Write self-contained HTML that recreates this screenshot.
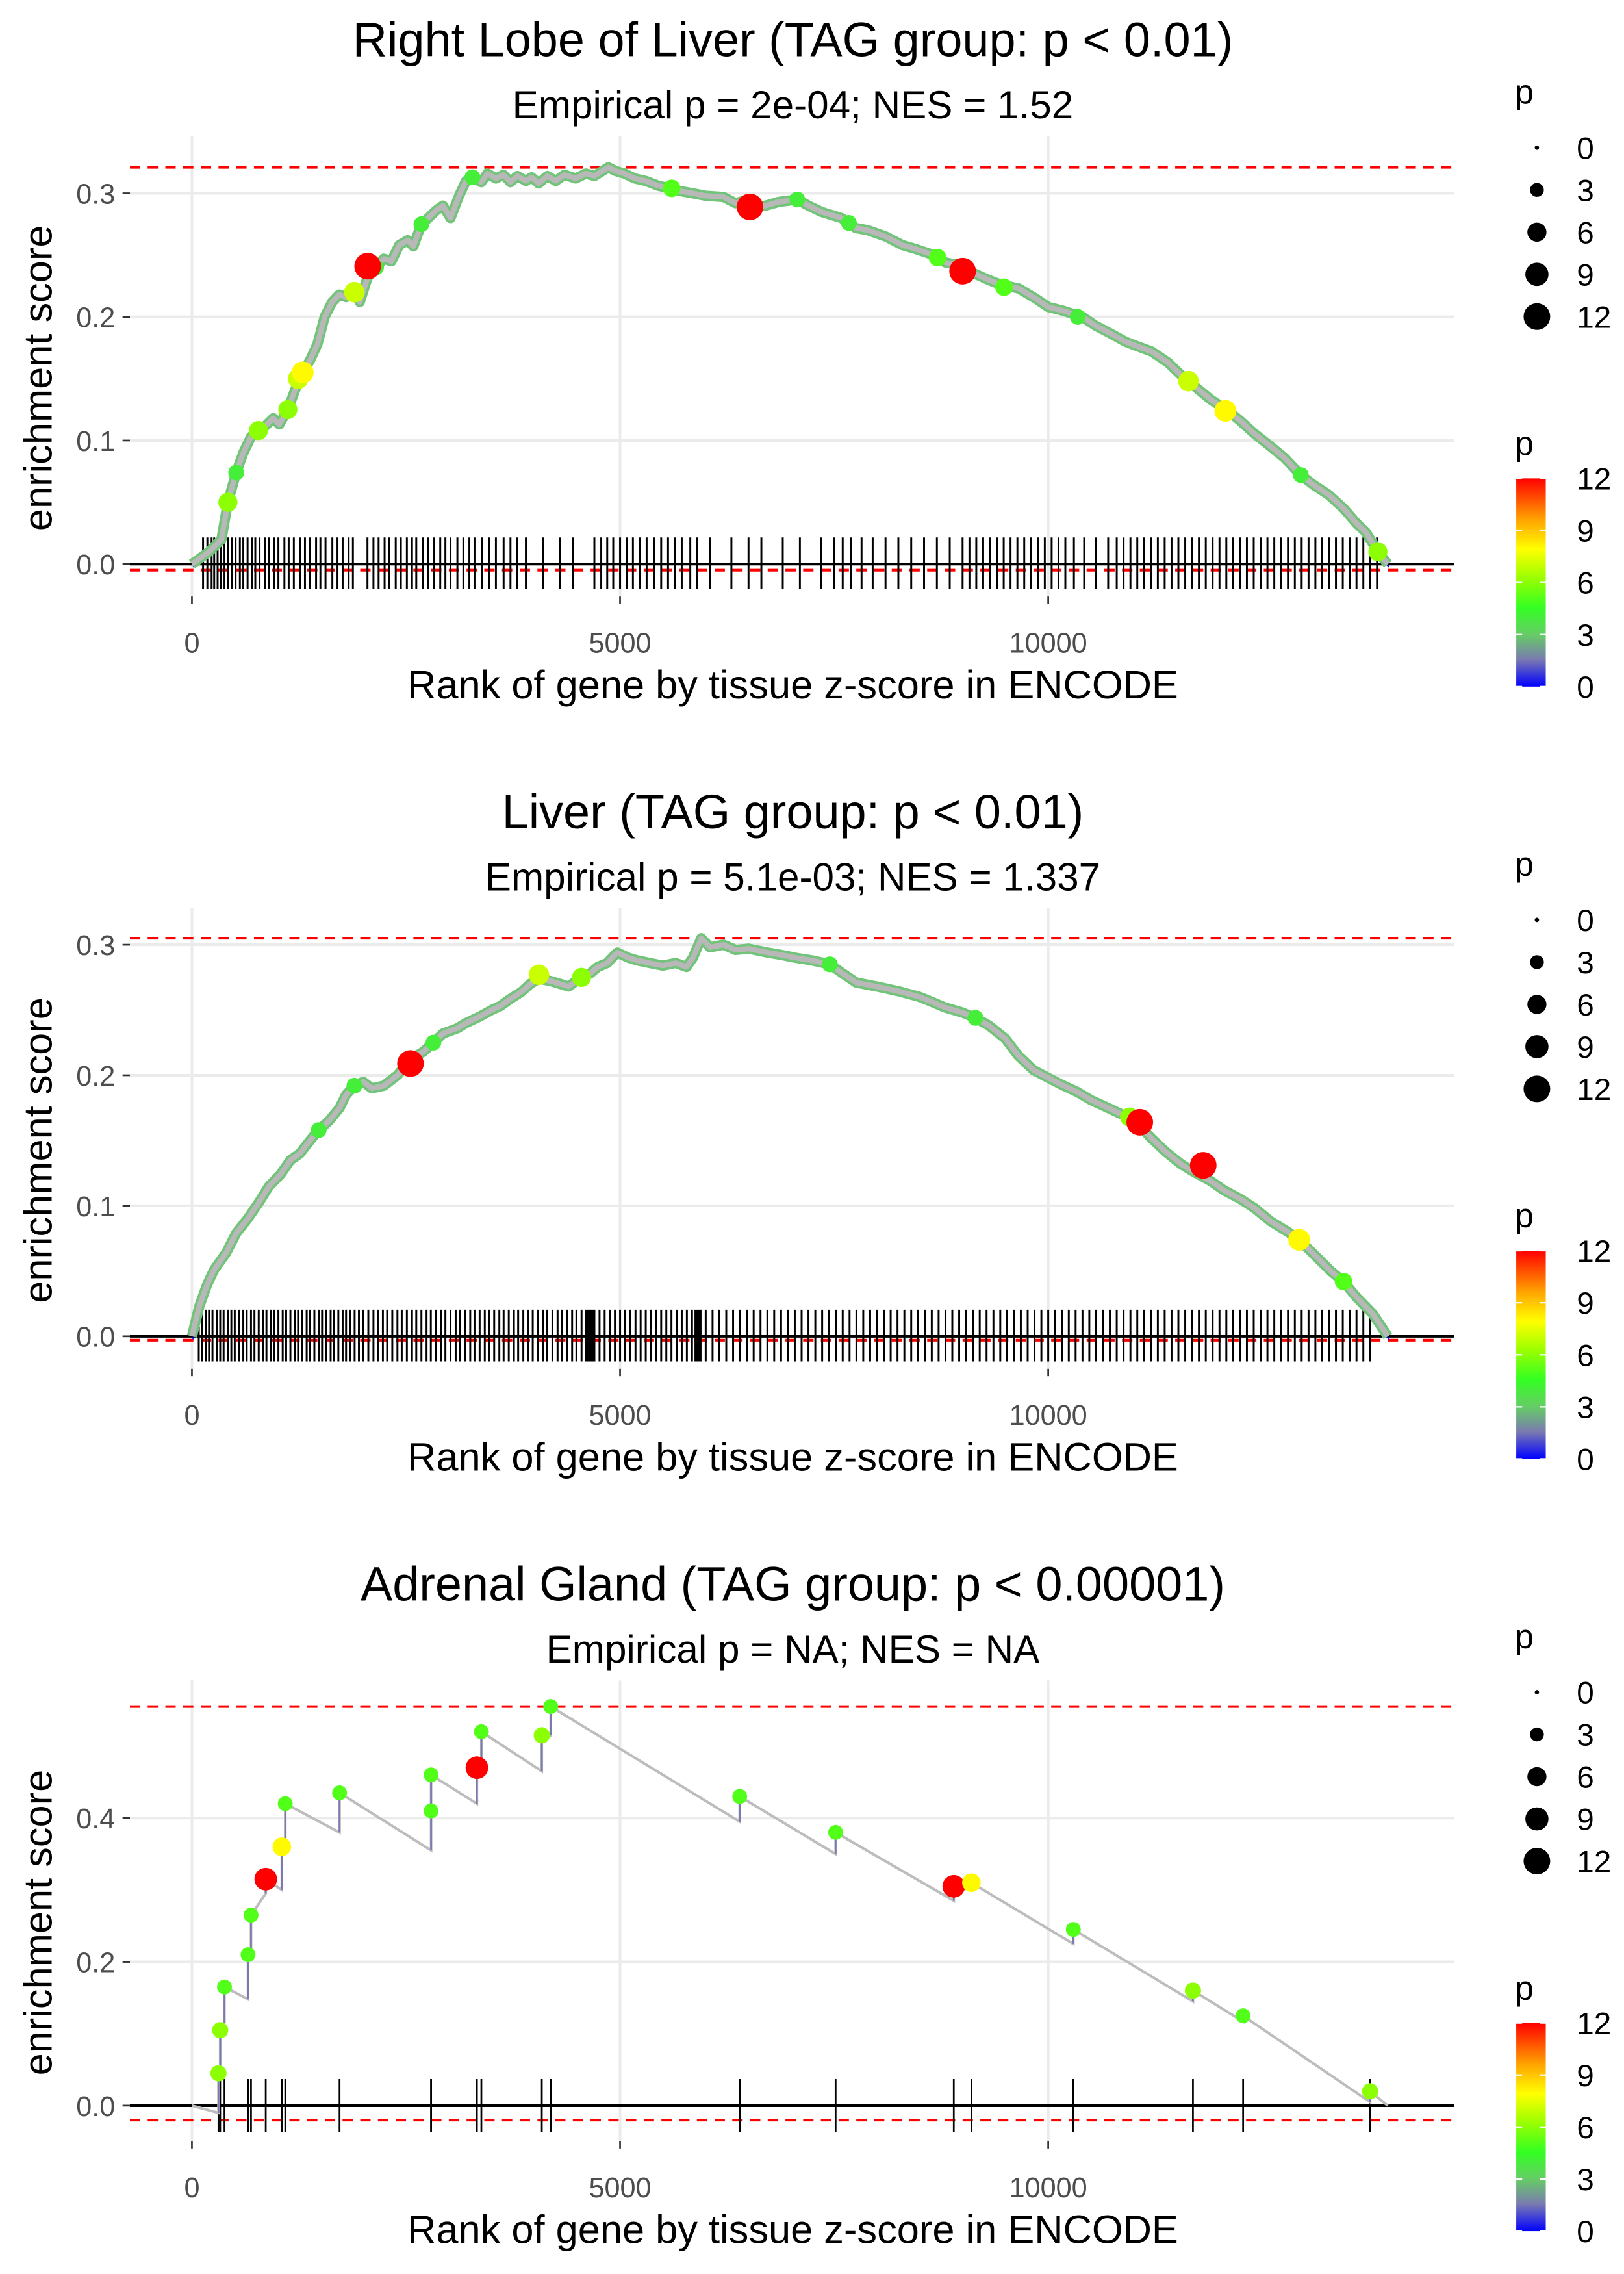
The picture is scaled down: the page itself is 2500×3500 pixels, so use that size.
<!DOCTYPE html>
<html><head><meta charset="utf-8"><title>GSEA enrichment plots</title>
<style>
html,body{margin:0;padding:0;background:#fff;}
svg{display:block;font-family:"Liberation Sans",sans-serif;}
</style></head>
<body>
<svg id="chart" width="2500" height="3500" viewBox="0 0 1100 1540" xmlns="http://www.w3.org/2000/svg">
<defs>
<linearGradient id="pgrad" x1="0" y1="1" x2="0" y2="0">
<stop offset="0" stop-color="#0000ff"/>
<stop offset="0.13" stop-color="#7a7ab0"/>
<stop offset="0.25" stop-color="#66cc66"/>
<stop offset="0.38" stop-color="#33ff22"/>
<stop offset="0.52" stop-color="#99ff00"/>
<stop offset="0.66" stop-color="#ffff00"/>
<stop offset="0.8" stop-color="#ffa500"/>
<stop offset="1" stop-color="#ff0000"/>
</linearGradient>
</defs>
</svg>
<script>
// ---------- Panel 1: Right Lobe of Liver ----------
const p1Ranks = [0,200,345,420,517,600,690,780,862,950,1020,1120,1200,1293,1380,1466,1550,1638,1720,1800,1897,1960,2052,2150,2241,2330,2420,2520,2586,2680,2760,2850,2931,3020,3120,3200,3276,3380,3450,3550,3638,3720,3800,3900,3966,4050,4150,4250,4350,4483,4600,4700,4862,4950,5050,5172,5300,5450,5600,5690,5850,6000,6207,6350,6450,6552,6700,6850,7069,7200,7350,7586,7750,7900,8103,8300,8450,8621,8800,8950,9138,9300,9450,9655,9850,10000,10172,10400,10550,10690,10900,11050,11207,11400,11550,11724,11900,12100,12241,12400,12600,12759,12950,13100,13276,13450,13600,13707,13850,13966];
const p1ES = [0,0.01,0.02,0.05,0.074,0.09,0.103,0.108,0.112,0.118,0.113,0.125,0.14,0.155,0.165,0.178,0.2,0.212,0.218,0.216,0.22,0.212,0.232,0.24,0.247,0.245,0.258,0.262,0.257,0.275,0.28,0.286,0.29,0.28,0.298,0.31,0.313,0.309,0.316,0.312,0.315,0.309,0.314,0.31,0.313,0.308,0.314,0.31,0.315,0.312,0.316,0.314,0.321,0.318,0.316,0.312,0.31,0.306,0.304,0.302,0.3,0.298,0.297,0.292,0.294,0.289,0.29,0.293,0.295,0.29,0.285,0.28,0.272,0.27,0.265,0.258,0.255,0.251,0.244,0.242,0.235,0.23,0.226,0.223,0.215,0.208,0.205,0.2,0.193,0.188,0.18,0.176,0.172,0.163,0.153,0.143,0.133,0.124,0.116,0.106,0.095,0.086,0.072,0.064,0.056,0.045,0.033,0.026,0.01,0];
const p1PtRank = [420,517,776,1120,1897,2150,2680,5603,7069,7672,8707,9483,10345,11638,12069,12950,13850,1241,1293,3276,6517,9000,2052];
const p1PtES = [0.05,0.074,0.108,0.125,0.22,0.24,0.275,0.304,0.295,0.276,0.248,0.224,0.2,0.148,0.124,0.072,0.01,0.15,0.155,0.313,0.289,0.237,0.241];
const p1PtP = [6,4,6,6,7,4,4,5,4,4,5,5,4,7,8,4,6,7,8,4,12,12,12];
const p1Rug = [130,180,230,260,300,340,380,420,470,510,560,600,650,700,740,790,850,900,960,1010,1080,1130,1190,1260,1320,1380,1450,1500,1560,1640,1700,1760,1830,1880,2050,2120,2180,2250,2300,2380,2440,2510,2570,2620,2700,2760,2830,2900,2960,3020,3100,3170,3240,3300,3390,3470,3550,3640,3720,3800,3900,4100,4300,4450,4700,4780,4850,4920,5000,5080,5150,5230,5310,5400,5480,5560,5640,5720,5820,5900,6050,6300,6500,6650,6900,7100,7350,7500,7600,7700,7820,7950,8100,8250,8400,8550,8700,8850,9000,9080,9160,9240,9320,9400,9480,9560,9640,9720,9800,9880,9960,10040,10120,10200,10300,10420,10560,10700,10800,10880,10960,11040,11120,11200,11280,11360,11440,11520,11600,11680,11760,11840,11920,12000,12080,12160,12240,12320,12400,12480,12560,12640,12720,12800,12880,12960,13040,13120,13200,13280,13360,13440,13520,13600,13680,13760,13840];
const p1Max = 0.321, p1Min = -0.005;
const p1Ticks = [0,0.1,0.2,0.3];

// ---------- Panel 2: Liver ----------
const p2Ranks = [0,86,180,259,400,517,650,776,900,1034,1150,1260,1379,1480,1600,1724,1800,1897,2000,2100,2241,2400,2552,2700,2820,2931,3100,3200,3362,3500,3600,3707,3850,3950,4052,4200,4300,4397,4550,4650,4741,4850,4966,5100,5200,5345,5500,5650,5776,5850,5948,6050,6207,6350,6500,6724,6900,7050,7241,7450,7600,7759,8000,8276,8500,8650,8793,9000,9150,9310,9500,9650,9828,10000,10150,10345,10500,10700,10862,11050,11200,11379,11550,11700,11897,12050,12250,12414,12600,12800,12931,13100,13300,13448,13600,13793,13966];
const p2ES = [0,0.023,0.04,0.051,0.064,0.079,0.09,0.102,0.115,0.124,0.135,0.14,0.15,0.158,0.165,0.175,0.185,0.192,0.195,0.19,0.192,0.2,0.212,0.218,0.225,0.232,0.236,0.24,0.245,0.25,0.253,0.258,0.264,0.27,0.274,0.272,0.27,0.268,0.275,0.278,0.283,0.286,0.294,0.29,0.288,0.286,0.284,0.286,0.283,0.29,0.305,0.298,0.3,0.296,0.297,0.294,0.292,0.29,0.288,0.285,0.278,0.271,0.268,0.264,0.26,0.256,0.252,0.248,0.244,0.238,0.228,0.215,0.204,0.198,0.193,0.187,0.181,0.175,0.17,0.163,0.152,0.141,0.132,0.126,0.119,0.112,0.105,0.098,0.088,0.08,0.074,0.063,0.05,0.042,0.03,0.017,0];
const p2PtRank = [1480,2820,7450,9150,10950,13448,4550,1897,2552,11069,11810,4052,12931];
const p2PtES = [0.158,0.225,0.285,0.244,0.168,0.042,0.275,0.192,0.209,0.164,0.131,0.277,0.074];
const p2PtP = [4,4,4,4,6,5,6,4,12,12,12,7,8];
const p2Rug = [80,120,160,200,240,290,330,370,420,460,500,550,600,640,690,730,780,830,870,920,960,1010,1060,1100,1150,1200,1240,1290,1340,1380,1430,1480,1520,1570,1620,1660,1710,1760,1800,1850,1900,1950,2000,2060,2120,2170,2230,2280,2340,2400,2450,2510,2570,2620,2680,2740,2790,2850,2910,2960,3020,3080,3130,3190,3250,3300,3360,3420,3470,3530,3590,3640,3700,3760,3810,3870,3930,3980,4040,4100,4150,4210,4270,4320,4380,4440,4490,4550,4600,4620,4640,4660,4680,4700,4760,4820,4880,4940,5000,5060,5120,5180,5240,5300,5360,5420,5480,5540,5600,5660,5720,5780,5840,5880,5900,5920,5940,6000,6080,6160,6240,6320,6400,6480,6560,6640,6720,6800,6880,6960,7040,7120,7200,7280,7360,7440,7520,7600,7680,7760,7840,7920,8000,8080,8160,8240,8320,8400,8480,8560,8640,8720,8800,8880,8960,9040,9120,9200,9280,9360,9440,9520,9600,9680,9760,9840,9920,10000,10080,10160,10240,10320,10400,10480,10560,10640,10720,10800,10880,10960,11040,11120,11200,11280,11360,11440,11520,11600,11680,11760,11840,11920,12000,12080,12160,12240,12320,12400,12480,12560,12640,12720,12800,12880,12960,13040,13120,13200,13280,13360,13440,13520,13600,13680,13760];
const p2Max = 0.305, p2Min = -0.003;
const p2Ticks = [0,0.1,0.2,0.3];

// ---------- Panel 3: Adrenal Gland ----------
const p3HitRank = [310,330,380,655,690,862,1050,1090,1724,2793,2793,3328,3380,4086,4190,6397,7517,8897,9103,10293,11690,12276,13759];
const p3Before = [-0.01,0.045,0.115,0.148,0.21,0.295,0.3,0.36,0.38,0.355,0.41,0.42,0.47,0.465,0.515,0.395,0.35,0.285,0.3,0.225,0.145,0.117,0.005];
const p3After = [0.045,0.105,0.165,0.21,0.265,0.315,0.36,0.42,0.435,0.41,0.46,0.47,0.52,0.515,0.555,0.43,0.38,0.305,0.31,0.245,0.16,0.125,0.02];
const p3P = [6,6,5,5,5,12,8,5,5,5,5,12,5,6,5,5,5,12,8,5,6,5,6];
const p3Max = 0.555, p3Min = -0.02;
const p3Ticks = [0,0.2,0.4];

const xTicks = [0,5000,10000];

const NS = "http://www.w3.org/2000/svg";
const svg = document.getElementById('chart');
function mk(tag, attrs, parent){
  const e = document.createElementNS(NS, tag);
  for (const k in attrs) e.setAttribute(k, attrs[k]);
  (parent||svg).appendChild(e);
  return e;
}
function pColor(p){
  const stops=[[0,[0,0,255]],[1.5,[122,122,176]],[3,[102,204,102]],[4.5,[51,255,34]],[6.2,[153,255,0]],[7.9,[255,255,0]],[9.6,[255,165,0]],[12,[255,0,0]]];
  for(let i=1;i<stops.length;i++){
    if(p<=stops[i][0]){
      const a=stops[i-1],b=stops[i],t=(p-a[0])/(b[0]-a[0]);
      const c=a[1].map((v,j)=>Math.round(v+(b[1][j]-v)*t));
      return 'rgb('+c.join(',')+')';
    }
  }
  return 'rgb(255,0,0)';
}
function pRadius(p){ return Math.sqrt(2.2 + 6.6*p); }

function panel(cfg){
  const g = mk('g',{});
  
  
  const xL=88, xR=985;
  const X = r => 130 + r*0.058;
  const Y = v => cfg.y0 - v*cfg.ys;
  cfg.ticks.forEach(t=>{
    const l=mk('line',{x1:xL,x2:xR,y1:Y(t),y2:Y(t),stroke:'#ebebeb','stroke-width':1.8},g);
    
    
  });
  xTicks.forEach(t=>{
    const l=mk('line',{x1:X(t),x2:X(t),y1:cfg.top,y2:cfg.bottom,stroke:'#ebebeb','stroke-width':1.8},g);
    
    
  });
  [cfg.max,cfg.min].forEach(v=>{
    const l=mk('line',{x1:xL,x2:xR,y1:Y(v),y2:Y(v),stroke:'#ff0000','stroke-width':1.8,'stroke-dasharray':'7,5'},g);
    
    
  });
  const rg=mk('g',{},g);
  
  
  cfg.rug.forEach(r=>{
    const l=mk('line',{x1:X(r),x2:X(r),y1:cfg.rugTop,y2:cfg.rugBot,stroke:'#000','stroke-width':cfg.rugW},rg);
    
    
  });
  const z=mk('line',{x1:xL,x2:xR,y1:Y(0),y2:Y(0),stroke:'#000','stroke-width':1.8},g);
  
  
  if(cfg.curveR){
    const pts = cfg.curveR.map((r,i)=>X(r)+','+Y(cfg.curveE[i])).join(' ');
    const b=mk('polyline',{points:pts,fill:'none',stroke:'#0000ff','stroke-width':1,transform:'translate(0.8,2)'},g);
    
    
    const u=mk('polyline',{points:pts,fill:'none',stroke:'#72c47a','stroke-width':7,'stroke-linejoin':'round'},g);
    
    
    const c=mk('polyline',{points:pts,fill:'none',stroke:'#b8b8b8','stroke-width':3.6,'stroke-linejoin':'round'},g);
    
    
    cfg.ptR.forEach((r,i)=>{
      const p=cfg.ptP[i];
      const d=mk('circle',{cx:X(r),cy:Y(cfg.ptE[i]),r:pRadius(p),fill:pColor(p)},g);
      
      
    });
  } else {
    let d='M'+X(0)+','+Y(0);
    cfg.hitR.forEach((r,i)=>{ d+=' L'+X(r)+','+Y(cfg.before[i])+' L'+X(r)+','+Y(cfg.after[i]); });
    d+=' L'+X(13966)+','+Y(0);
    const c=mk('path',{d:d,fill:'none',stroke:'#bdbdbd','stroke-width':1.8},g);
    
    
    cfg.hitR.forEach((r,i)=>{
      const v=mk('line',{x1:X(r),x2:X(r),y1:Y(cfg.before[i]),y2:Y(cfg.after[i]),stroke:'#7a7ab0','stroke-width':1.2},g);
      
      
    });
    cfg.hitR.forEach((r,i)=>{
      const p=cfg.hitP[i];
      const d2=mk('circle',{cx:X(r),cy:Y(cfg.after[i]),r:pRadius(p)*0.85,fill:pColor(p)},g);
      
      
    });
  }
  cfg.ticks.forEach(t=>{
    const tk=mk('line',{x1:83,x2:88,y1:Y(t),y2:Y(t),stroke:'#333','stroke-width':1.2},g);
    
    
    const tx=mk('text',{x:78,y:Y(t)+7,'text-anchor':'end','font-size':19,fill:'#4d4d4d'},g);
    tx.textContent=t.toFixed(1);
    
    
  });
  xTicks.forEach(t=>{
    const tk=mk('line',{x1:X(t),x2:X(t),y1:cfg.bottom,y2:cfg.bottom+5,stroke:'#333','stroke-width':1.2},g);
    
    
    const tx=mk('text',{x:X(t),y:cfg.bottom+38,'text-anchor':'middle','font-size':19,fill:'#4d4d4d'},g);
    tx.textContent=String(t);
    
    
  });
  const xt=mk('text',{x:537,y:cfg.bottom+69,'text-anchor':'middle','font-size':27,fill:'#000'},g);
  xt.textContent='Rank of gene by tissue z-score in ENCODE';
  
  
  const cy=(cfg.top+cfg.bottom)/2+8;
  const yt=mk('text',{x:35,y:cy,'text-anchor':'middle','font-size':27,fill:'#000',transform:'rotate(-90 35 '+cy+')'},g);
  yt.textContent='enrichment score';
  
  
  const tt=mk('text',{x:537,y:cfg.titleY,'text-anchor':'middle','font-size':32.5,fill:'#000'},g);
  tt.textContent=cfg.title;
  
  
  const st=mk('text',{x:537,y:cfg.titleY+42,'text-anchor':'middle','font-size':26.5,fill:'#000'},g);
  st.textContent=cfg.sub;
  
  
  const L=cfg.legY;
  const lg=mk('g',{},g);
  
  
  const lt=mk('text',{x:1026,y:L+8,'font-size':23,fill:'#000'},lg);
  lt.textContent='p';
  
  
  [0,3,6,9,12].forEach((v,i)=>{
    const yy=L+38+i*28.6;
    const c=mk('circle',{cx:1041,cy:yy,r:pRadius(v),fill:'#000'},lg);
    
    
    const t=mk('text',{x:1068,y:yy+7.5,'font-size':21,fill:'#000'},lg);
    t.textContent=String(v);
    
    
  });
  const cg=mk('g',{},g);
  
  
  const ct=mk('text',{x:1026,y:L+246,'font-size':23,fill:'#000'},cg);
  ct.textContent='p';
  
  
  const bt=L+262, bb=L+403;
  const bar=mk('rect',{x:1027,y:bt,width:20,height:bb-bt,fill:'url(#pgrad)'},cg);
  
  
  [0,3,6,9,12].forEach(v=>{
    const yy=bb-(bb-bt)*v/12;
    const t1=mk('line',{x1:1027,x2:1031,y1:yy,y2:yy,stroke:'#fff','stroke-width':1},cg);
    
    
    const t2=mk('line',{x1:1043,x2:1047,y1:yy,y2:yy,stroke:'#fff','stroke-width':1},cg);
    
    
    const t=mk('text',{x:1068,y:yy+7.5,'font-size':21,fill:'#000'},cg);
    t.textContent=String(v);
    
    
  });
}

panel({name:'panel-right-lobe-of-liver',title:'Right Lobe of Liver (TAG group: p < 0.01)',sub:'Empirical p = 2e-04; NES = 1.52',
  titleY:38,top:92,bottom:404,y0:382,ys:837,ticks:p1Ticks,max:p1Max,min:p1Min,
  rug:p1Rug,rugTop:364,rugBot:399,rugW:1.3,curveR:p1Ranks,curveE:p1ES,ptR:p1PtRank,ptE:p1PtES,ptP:p1PtP,legY:62});
panel({name:'panel-liver',title:'Liver (TAG group: p < 0.01)',sub:'Empirical p = 5.1e-03; NES = 1.337',
  titleY:561,top:615,bottom:927,y0:905,ys:884,ticks:p2Ticks,max:p2Max,min:p2Min,
  rug:p2Rug,rugTop:887,rugBot:922,rugW:1.3,curveR:p2Ranks,curveE:p2ES,ptR:p2PtRank,ptE:p2PtES,ptP:p2PtP,legY:585});
panel({name:'panel-adrenal-gland',title:'Adrenal Gland (TAG group: p < 0.00001)',sub:'Empirical p = NA; NES = NA',
  titleY:1084,top:1138,bottom:1450,y0:1426,ys:487,ticks:p3Ticks,max:p3Max,min:p3Min,
  rug:p3HitRank,rugTop:1408,rugBot:1444,rugW:1.2,hitR:p3HitRank,before:p3Before,after:p3After,hitP:p3P,legY:1108});
</script>
</body></html>
